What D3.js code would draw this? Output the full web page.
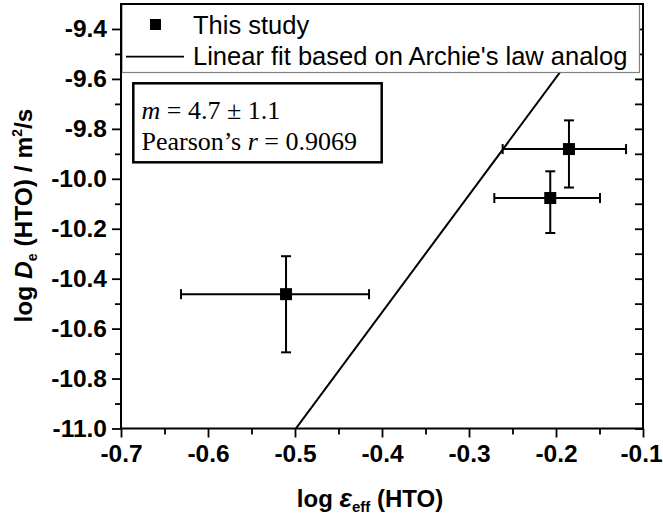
<!DOCTYPE html>
<html>
<head>
<meta charset="utf-8">
<script src="https://cdn.jsdelivr.net/npm/d3@7/dist/d3.min.js"></script>
<style>
  html, body { margin: 0; padding: 0; background: #fff; }
  svg { display: block; }
</style>
</head>
<body>
<svg id="chart" width="663" height="520"></svg>
<script>
// Measured points: log effective porosity vs log effective diffusion coefficient (HTO)
const logEps     = [-0.5103, -0.1851, -0.2066];
const logDe      = [-10.462, -9.881, -10.077];
const logEpsLow  = [-0.6310, -0.2613, -0.2709];
const logEpsHigh = [-0.4149, -0.1195, -0.1494];
const logDeLow   = [-10.695, -10.035, -10.217];
const logDeHigh  = [-10.310, -9.766, -9.970];

// Archie's-law-analog fit: log De = m * log eps + c
const fitSlope = 4.7;
const fitIntercept = -8.655;

const xDomain = [-0.7, -0.1];
const yDomain = [-11.0, -9.3];
const xMajor = [-0.7, -0.6, -0.5, -0.4, -0.3, -0.2, -0.1];
const xMinor = [-0.65, -0.55, -0.45, -0.35, -0.25, -0.15];
const yMajor = [-11.0, -10.8, -10.6, -10.4, -10.2, -10.0, -9.8, -9.6, -9.4];
const yMinor = [-10.9, -10.7, -10.5, -10.3, -10.1, -9.9, -9.7, -9.5];

const legendLabels = ["This study", "Linear fit based on Archie's law analog"];

const svg = d3.select("#chart");
const pL = 121, pR = 643, pT = 4, pB = 428.5;
const x = d3.scaleLinear().domain(xDomain).range([pL, pR]);
const y = d3.scaleLinear().domain(yDomain).range([pB, pT]);

const sans = "'Liberation Sans', Arial, sans-serif";
const serif = "'Liberation Serif', 'Times New Roman', serif";

svg.append("defs").append("clipPath").attr("id", "plotClip")
  .append("rect").attr("x", pL).attr("y", pT)
  .attr("width", pR - pL).attr("height", pB - pT);

// right axis: inward ticks, no labels
svg.append("g").attr("transform", `translate(${pR},0)`)
  .call(d3.axisLeft(y).tickValues(yMajor.concat(yMinor)).tickFormat("").tickSize(8))
  .call(g => g.select(".domain").remove())
  .call(g => g.selectAll(".tick line").attr("stroke", "#000").attr("stroke-width", 1.8));

// fit line across the full x range, clipped to the plot
svg.append("line")
  .attr("clip-path", "url(#plotClip)")
  .attr("x1", x(xDomain[0])).attr("y1", y(fitSlope * xDomain[0] + fitIntercept))
  .attr("x2", x(xDomain[1])).attr("y2", y(fitSlope * xDomain[1] + fitIntercept))
  .attr("stroke", "#000").attr("stroke-width", 2);

// error bars
const pts = logEps.map((v, i) => ({
  x: v, y: logDe[i],
  xl: logEpsLow[i], xh: logEpsHigh[i], yl: logDeLow[i], yh: logDeHigh[i]
}));
const cap = 5;
const eb = svg.append("g").attr("stroke", "#000").attr("stroke-width", 2);
pts.forEach(p => {
  eb.append("line").attr("x1", x(p.xl)).attr("x2", x(p.xh)).attr("y1", y(p.y)).attr("y2", y(p.y));
  eb.append("line").attr("x1", x(p.xl)).attr("x2", x(p.xl)).attr("y1", y(p.y) - cap).attr("y2", y(p.y) + cap);
  eb.append("line").attr("x1", x(p.xh)).attr("x2", x(p.xh)).attr("y1", y(p.y) - cap).attr("y2", y(p.y) + cap);
  eb.append("line").attr("x1", x(p.x)).attr("x2", x(p.x)).attr("y1", y(p.yl)).attr("y2", y(p.yh));
  eb.append("line").attr("x1", x(p.x) - cap).attr("x2", x(p.x) + cap).attr("y1", y(p.yl)).attr("y2", y(p.yl));
  eb.append("line").attr("x1", x(p.x) - cap).attr("x2", x(p.x) + cap).attr("y1", y(p.yh)).attr("y2", y(p.yh));
});
const ms = 12;
svg.append("g").selectAll("rect").data(pts).join("rect")
  .attr("x", d => x(d.x) - ms / 2).attr("y", d => y(d.y) - ms / 2)
  .attr("width", ms).attr("height", ms).attr("fill", "#000");

// legend
const lg = svg.append("g");
lg.append("rect").attr("x", 122).attr("y", pT).attr("width", 517.5).attr("height", 68.5)
  .attr("fill", "#fff").attr("stroke", "#808080").attr("stroke-width", 1.2);
lg.append("rect").attr("x", 155.5 - 5.5).attr("y", 24.5 - 5.5).attr("width", 11).attr("height", 11).attr("fill", "#000");
lg.append("line").attr("x1", 126).attr("x2", 184).attr("y1", 56.7).attr("y2", 56.7)
  .attr("stroke", "#000").attr("stroke-width", 1.8);
lg.selectAll("text").data(legendLabels).join("text")
  .attr("x", 193).attr("y", (d, i) => 34 + i * 30.5)
  .attr("font-family", sans).attr("font-size", 25.5).attr("fill", "#000")
  .text(d => d);

// fit statistics box
const sb = svg.append("g");
sb.append("rect").attr("x", 133.3).attr("y", 83.3).attr("width", 248.4).attr("height", 79)
  .attr("fill", "#fff").attr("stroke", "#000").attr("stroke-width", 2.5);
const t1 = sb.append("text").attr("x", 141.5).attr("y", 119)
  .attr("font-family", serif).attr("font-size", 26).attr("fill", "#000");
t1.append("tspan").attr("font-style", "italic").text("m");
t1.append("tspan").text(" = 4.7 ± 1.1");
const t2 = sb.append("text").attr("x", 141.5).attr("y", 149.5)
  .attr("font-family", serif).attr("font-size", 26).attr("fill", "#000");
t2.append("tspan").text("Pearson’s ");
t2.append("tspan").attr("font-style", "italic").text("r");
t2.append("tspan").text(" = 0.9069");

// axes
const fmt = v => v.toFixed(1);
function styleAxis(g) {
  g.select(".domain").remove();
  g.selectAll(".tick line").attr("stroke", "#000").attr("stroke-width", 1.8);
  g.selectAll(".tick text").attr("font-family", sans).attr("font-weight", "bold")
    .attr("font-size", 24.5).attr("fill", "#000");
}
svg.append("g").attr("transform", `translate(0,${pB})`)
  .call(d3.axisBottom(x).tickValues(xMajor).tickFormat(fmt).tickSize(9).tickPadding(7))
  .call(styleAxis)
  // keep the right-most label inside the canvas
  .call(g => g.selectAll(".tick text").filter(d => d === xDomain[1]).attr("dx", -2));
svg.append("g").attr("transform", `translate(0,${pB})`)
  .call(d3.axisBottom(x).tickValues(xMinor).tickFormat("").tickSize(6))
  .call(styleAxis);
svg.append("g").attr("transform", `translate(${pL},0)`)
  .call(d3.axisLeft(y).tickValues(yMajor).tickFormat(fmt).tickSize(9).tickPadding(5))
  .call(styleAxis);
svg.append("g").attr("transform", `translate(${pL},0)`)
  .call(d3.axisLeft(y).tickValues(yMinor).tickFormat("").tickSize(6))
  .call(styleAxis);

// frame
svg.append("rect").attr("x", pL).attr("y", pT).attr("width", pR - pL).attr("height", pB - pT)
  .attr("fill", "none").attr("stroke", "#000").attr("stroke-width", 2);

// axis titles
const xt = svg.append("text").attr("x", 370).attr("y", 507).attr("text-anchor", "middle")
  .attr("font-family", sans).attr("font-weight", "bold").attr("font-size", 24).attr("fill", "#000");
xt.append("tspan").text("log ");
xt.append("tspan").attr("font-style", "italic").attr("font-size", 26).text("ε");
xt.append("tspan").attr("font-size", 15).attr("dy", 5).text("eff");
xt.append("tspan").attr("dy", -5).text(" (HTO)");

const yt = svg.append("text").attr("transform", "translate(32,215.5) rotate(-90)").attr("text-anchor", "middle")
  .attr("font-family", sans).attr("font-weight", "bold").attr("font-size", 24.5).attr("fill", "#000");
yt.append("tspan").text("log ");
yt.append("tspan").attr("font-style", "italic").text("D");
yt.append("tspan").attr("font-size", 14).attr("dy", 5).text("e");
yt.append("tspan").attr("dy", -5).text(" (HTO) / m");
yt.append("tspan").attr("font-size", 14).attr("dy", -10).text("2");
yt.append("tspan").attr("dy", 10).text("/s");
</script>
</body>
</html>
